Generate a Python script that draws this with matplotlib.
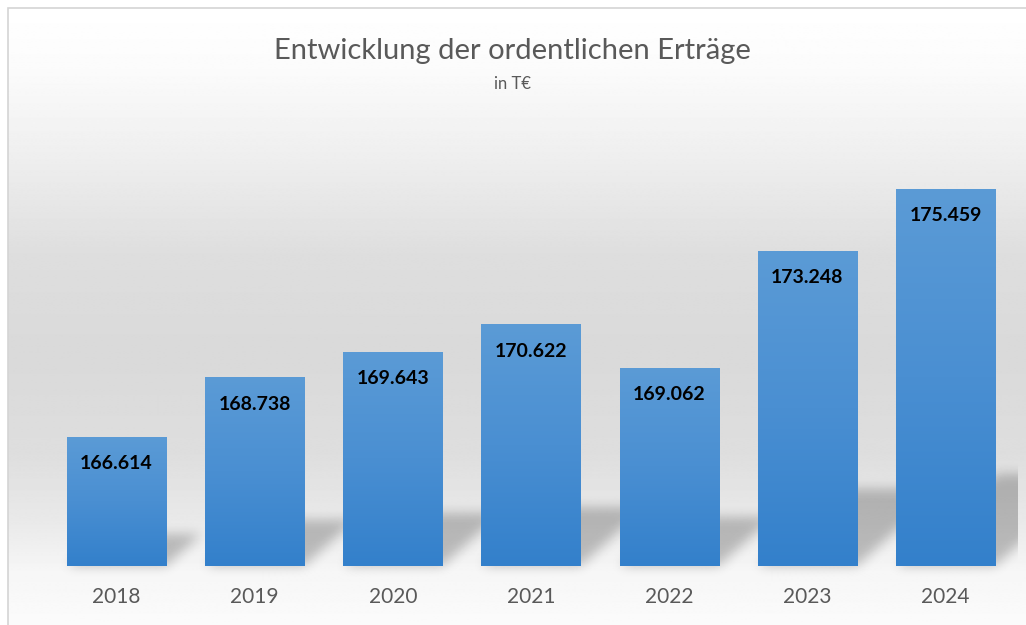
import numpy as np
import matplotlib
matplotlib.use("Agg")
import matplotlib.pyplot as plt
from matplotlib.path import Path
from matplotlib.patches import Rectangle
from matplotlib.colors import LinearSegmentedColormap

# ---- data ----
years = ["2018", "2019", "2020", "2021", "2022", "2023", "2024"]
values = [166.614, 168.738, 169.643, 170.622, 169.062, 173.248, 175.459]
value_labels = ["166.614", "168.738", "169.643", "170.622", "169.062", "173.248", "175.459"]
title = "Entwicklung der ordentlichen Erträge"
subtitle = "in T€"

plt.rcParams['font.family'] = ['Lato', 'DejaVu Sans']

W, H = 1026, 625
DPI = 100
fig = plt.figure(figsize=(W / DPI, H / DPI), dpi=DPI)
fig.patch.set_facecolor('white')

# background axes covering whole figure (pixel coordinates)
bg = fig.add_axes([0, 0, 1, 1])
bg.set_xlim(0, W)
bg.set_ylim(0, H)
bg.axis('off')

# vertical gradient of chart area
ys_top = np.array([0, 60, 150, 250, 350, 450, 520, 570, 625])
lv = np.array([1.0, 0.985, 0.935, 0.87, 0.852, 0.87, 0.915, 0.965, 0.985])
rows = np.interp(np.arange(H), ys_top, lv)[::-1]  # origin lower
grad = np.repeat(rows[:, None], 2, axis=1)
bg.imshow(grad, extent=[8, W, 0, H - 8], origin='lower', cmap='gray',
          vmin=0, vmax=1, aspect='auto', interpolation='bilinear', zorder=0)
bg.add_patch(Rectangle((7.5, -5), W, H - 7.5 + 5, fill=False,
                       edgecolor='#d4d4d4', lw=1.2, zorder=1))

# main axes
x_left, x_right = 47.4, 1014.6
y_bot, y_top = 566, 100
ax = fig.add_axes([x_left / W, 1 - y_bot / H, (x_right - x_left) / W, (y_bot - y_top) / H])
ax.patch.set_alpha(0)
ymin = 162.0
ymax = ymin + (y_bot - y_top) / 28.04
ax.set_xlim(-0.5, len(years) - 0.5)
ax.set_ylim(ymin, ymax)
for s in ax.spines.values():
    s.set_visible(False)
ax.set_yticks([])
xs = np.arange(len(years))
ax.set_xticks(xs)
ax.set_xticklabels(years, fontsize=15, color='#595959')
ax.tick_params(axis='x', length=0, pad=15)

bw = 0.717
bars = ax.bar(xs, [v - ymin for v in values], bottom=ymin, width=bw,
              color='#4a8fd2', zorder=2)

# gradient fill for bars
cmap = LinearSegmentedColormap.from_list('barg', ['#3380cb', '#4a8fd2', '#5b9bd6'])
g = np.linspace(0, 1, 256)[:, None]
for b in bars:
    x0, y0 = b.get_x(), b.get_y()
    im = ax.imshow(g, extent=[x0, x0 + b.get_width(), y0, y0 + b.get_height()],
                   origin='lower', cmap=cmap, aspect='auto', zorder=3,
                   interpolation='bilinear')
    im.set_clip_path(b)
ax.set_xlim(-0.5, len(years) - 0.5)
ax.set_ylim(ymin, ymax)

# soft shadow (derived from bar geometry)
yy, xx = np.mgrid[0:H, 0:W] + 0.5
pts = np.column_stack([xx.ravel(), yy.ravel()])
mask = np.zeros(H * W)
for b in bars:
    (px0, py0) = ax.transData.transform((b.get_x(), b.get_y()))
    (px1, py1) = ax.transData.transform((b.get_x() + b.get_width(), b.get_y() + b.get_height()))
    h = py1 - py0
    hs, d = 0.245 * h, 0.27 * h
    poly = Path([(px0, py0), (px1, py0), (px1 + d, py0 + hs), (px0 + d, py0 + hs), (px0, py0)])
    mask = np.maximum(mask, poly.contains_points(pts).astype(float))
mask = mask.reshape(H, W)

def box_blur(a, r, axis):
    c = np.cumsum(np.pad(a, [(r + 1, r) if i == axis else (0, 0) for i in range(2)], mode='edge'), axis=axis)
    if axis == 0:
        return (c[2 * r + 1:, :] - c[:-2 * r - 1, :]) / (2 * r + 1)
    return (c[:, 2 * r + 1:] - c[:, :-2 * r - 1]) / (2 * r + 1)

for _ in range(3):
    mask = box_blur(mask, 5, 0)
    mask = box_blur(mask, 5, 1)
mask[:, :9] = 0
mask[:, 1018:] = 0
rgba = np.zeros((H, W, 4))
rgba[..., 3] = mask * 0.23
bg.imshow(rgba, extent=[0, W, 0, H], origin='lower', aspect='auto', zorder=2,
          interpolation='nearest')

# value labels inside bar ends
for b, lab in zip(bars, value_labels):
    ax.annotate(lab, (b.get_x() + b.get_width() / 2, b.get_y() + b.get_height()),
                xytext=(0, -27), textcoords='offset pixels', ha='center', va='center',
                fontsize=14, fontweight='bold', color='black', zorder=5)

# titles
fig.text(512 / W, 1 - 51 / H, title, ha='center', va='center', fontsize=21,
         fontweight='normal', color='#595959')
fig.text(512 / W, 1 - 84 / H, subtitle, ha='center', va='center', fontsize=12,
         color='#595959')

fig.savefig('out.png', dpi=DPI)
